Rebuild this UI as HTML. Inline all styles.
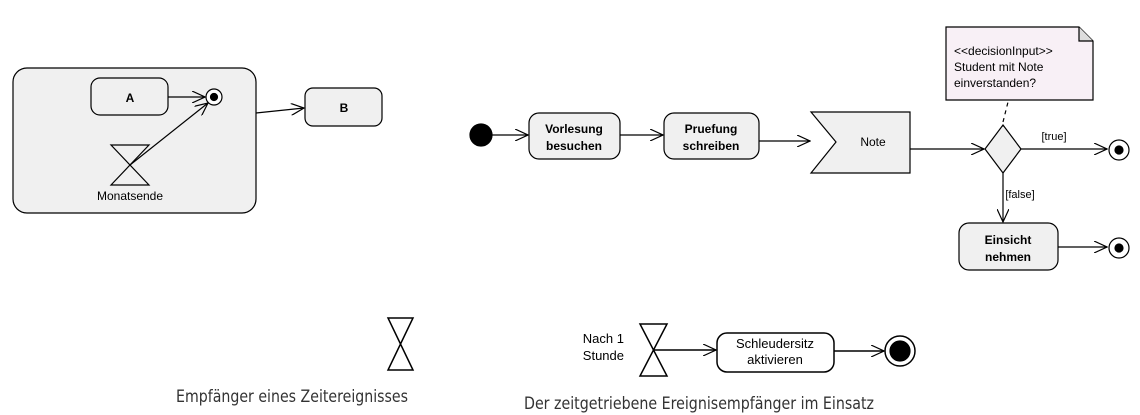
<!DOCTYPE html>
<html><head><meta charset="utf-8"><style>
body{margin:0;background:#fff;}
svg{display:block;font-family:"Liberation Sans",Arial,sans-serif;}
</style></head><body>
<svg width="1140" height="415" viewBox="0 0 1140 415">
<defs>
<marker id="a" markerWidth="14" markerHeight="12" refX="13" refY="6" orient="auto" markerUnits="userSpaceOnUse">
<path d="M0,0 L13,6 L0,12" fill="none" stroke="#000" stroke-width="1.2"/>
</marker>
</defs>
<g stroke="#000" stroke-width="1.2">
<!-- left diagram -->
<rect x="13" y="68" width="243" height="145" rx="14" fill="#f0f0f0"/>
<rect x="91" y="78" width="77" height="37" rx="9" fill="#f0f0f0"/>
<circle cx="214" cy="97" r="8" fill="#fff"/>
<circle cx="214" cy="97" r="3.5" fill="#000"/>
<line x1="168" y1="97" x2="205" y2="97" marker-end="url(#a)"/>
<path d="M111,145 L149,145 L111,185 L149,185 Z" fill="none"/>
<line x1="130" y1="165" x2="208" y2="103" marker-end="url(#a)"/>
<rect x="305" y="88" width="77" height="38" rx="8" fill="#f0f0f0"/>
<line x1="256" y1="113" x2="304" y2="108" marker-end="url(#a)"/>

<!-- right diagram -->
<circle cx="481" cy="135" r="11" fill="#000"/>
<line x1="492" y1="135" x2="528" y2="135" marker-end="url(#a)"/>
<rect x="529" y="113" width="91" height="46" rx="10" fill="#f0f0f0"/>
<line x1="620" y1="135" x2="663" y2="135" marker-end="url(#a)"/>
<rect x="664" y="113" width="95" height="46" rx="10" fill="#f0f0f0"/>
<line x1="759" y1="141" x2="810" y2="141" marker-end="url(#a)"/>
<path d="M811,112 L910,112 L910,173 L811,173 L836,142 Z" fill="#f0f0f0"/>
<line x1="910" y1="149" x2="984" y2="149" marker-end="url(#a)"/>
<path d="M1003,125 L1021,149 L1003,173 L985,149 Z" fill="#f0f0f0"/>
<line x1="1021" y1="149" x2="1107" y2="149" marker-end="url(#a)"/>
<circle cx="1119" cy="150" r="10" fill="#fff"/>
<circle cx="1119" cy="150" r="4" fill="#000"/>
<line x1="1003" y1="173" x2="1003" y2="222" marker-end="url(#a)"/>
<rect x="959" y="223" width="99" height="47" rx="10" fill="#f0f0f0"/>
<line x1="1058" y1="247" x2="1107" y2="247" marker-end="url(#a)"/>
<circle cx="1119" cy="248" r="10" fill="#fff"/>
<circle cx="1119" cy="248" r="4" fill="#000"/>
<path d="M946,27 L1079,27 L1093,41 L1093,100 L946,100 Z" fill="#f8f0f6"/>
<path d="M1079,27 L1079,41 L1093,41" fill="#ddd"/>
<line x1="1003" y1="122" x2="1008" y2="102" stroke-dasharray="4,4"/>

<!-- bottom -->
<path d="M388,318 L413,318 L388,370 L413,370 Z" fill="none" stroke-width="1.5"/>
<path d="M640,324 L667,324 L640,376 L667,376 Z" fill="none" stroke-width="1.5"/>
<line x1="653" y1="350" x2="716" y2="350" marker-end="url(#a)" stroke-width="1.5"/>
<rect x="717" y="333" width="117" height="39" rx="10" fill="#fff" stroke-width="1.5"/>
<line x1="834" y1="351" x2="884" y2="351" marker-end="url(#a)" stroke-width="1.5"/>
<circle cx="900" cy="351" r="15" fill="#fff" stroke-width="1.5"/>
<circle cx="900" cy="351" r="10" fill="#000"/>
</g>
<g font-size="12" fill="#000" text-anchor="middle">
<text x="130" y="102" font-weight="bold">A</text>
<text x="130" y="200">Monatsende</text>
<text x="344" y="112" font-weight="bold">B</text>
<text x="574" y="133" font-weight="bold">Vorlesung</text>
<text x="574" y="150" font-weight="bold">besuchen</text>
<text x="711" y="133" font-weight="bold">Pruefung</text>
<text x="711" y="150" font-weight="bold">schreiben</text>
<text x="873" y="146">Note</text>
<text x="1054" y="140" font-size="11">[true]</text>
<text x="1020" y="198" font-size="11">[false]</text>
<text x="1008" y="244" font-weight="bold">Einsicht</text>
<text x="1008" y="261" font-weight="bold">nehmen</text>
<text x="775" y="348" font-size="13">Schleudersitz</text>
<text x="775" y="364" font-size="13">aktivieren</text>
</g>
<g font-size="12" fill="#000">
<text x="954" y="55">&lt;&lt;decisionInput&gt;&gt;</text>
<text x="954" y="71">Student mit Note</text>
<text x="954" y="87">einverstanden?</text>
</g>
<g font-size="13" fill="#000" text-anchor="end">
<text x="624" y="343">Nach 1</text>
<text x="624" y="360">Stunde</text>
</g>
<g font-size="17" fill="#333" font-family="'DejaVu Sans Condensed','Liberation Sans Narrow',sans-serif" font-weight="300">
<text x="176" y="402" textLength="232" lengthAdjust="spacingAndGlyphs">Empfänger eines Zeitereignisses</text>
<text x="524" y="409" textLength="350" lengthAdjust="spacingAndGlyphs">Der zeitgetriebene Ereignisempfänger im Einsatz</text>
</g>
</svg>
</body></html>
